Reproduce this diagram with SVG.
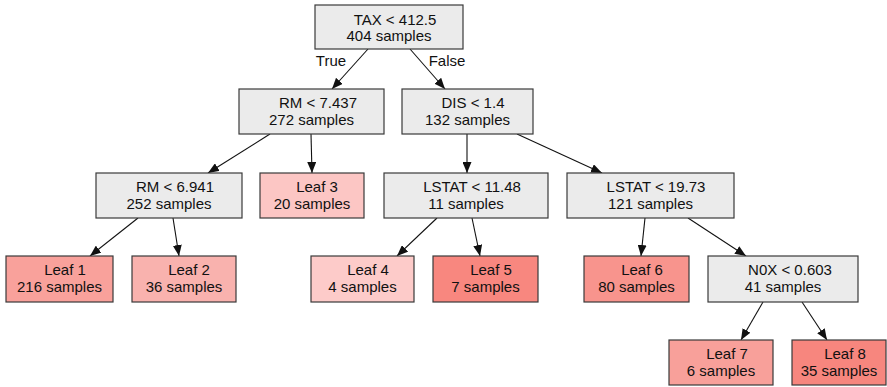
<svg xmlns="http://www.w3.org/2000/svg" width="887" height="387" viewBox="0 0 887 387">
<style>
.box{stroke:#3a3a3a;stroke-width:1.2}
.split{fill:#ebebeb}
text{font-family:"Liberation Sans",Arial,sans-serif;font-size:15px;fill:#111;text-anchor:middle}
.e{stroke:#111;stroke-width:1.1;fill:none;marker-end:url(#ah)}
</style>
<defs>
<marker id="ah" viewBox="0 0 11 9" refX="11" refY="4.5" markerWidth="11" markerHeight="9" markerUnits="userSpaceOnUse" orient="auto">
<path d="M0,0 L11,4.5 L0,9 Z" fill="#111"/>
</marker>
</defs>
<rect width="887" height="387" fill="#fff"/>
<g id="edges">
<line class="e" x1="368" y1="49" x2="332" y2="89"/>
<line class="e" x1="410" y1="49" x2="445" y2="89"/>
<line class="e" x1="270" y1="134" x2="208" y2="173"/>
<line class="e" x1="311" y1="134" x2="312" y2="173"/>
<line class="e" x1="467" y1="134" x2="467" y2="173"/>
<line class="e" x1="517" y1="134" x2="602" y2="173"/>
<line class="e" x1="138" y1="218" x2="90" y2="256"/>
<line class="e" x1="173" y1="218" x2="179" y2="256"/>
<line class="e" x1="437" y1="218" x2="397" y2="256"/>
<line class="e" x1="472" y1="218" x2="480" y2="256"/>
<line class="e" x1="645" y1="218" x2="641" y2="256"/>
<line class="e" x1="688" y1="218" x2="746" y2="256"/>
<line class="e" x1="763" y1="302" x2="741" y2="340"/>
<line class="e" x1="802" y1="302" x2="827" y2="340"/>
<text x="331" y="66">True</text>
<text x="447" y="66">False</text>
</g>
<g id="n0"><rect class="box split" x="315" y="5" width="148" height="44"/><text x="395" y="25">TAX &lt; 412.5</text><text x="389" y="41">404 samples</text></g>
<g id="n1"><rect class="box split" x="239" y="89" width="145" height="45"/><text x="318" y="108">RM &lt; 7.437</text><text x="311.5" y="125">272 samples</text></g>
<g id="n2"><rect class="box split" x="402" y="89" width="131" height="45"/><text x="473" y="108">DIS &lt; 1.4</text><text x="467.5" y="125">132 samples</text></g>
<g id="n3"><rect class="box split" x="96" y="173" width="146" height="45"/><text x="175" y="192">RM &lt; 6.941</text><text x="169" y="209">252 samples</text></g>
<g id="n4"><rect class="box" fill="#fcc6c4" x="260" y="173" width="104" height="45"/><text x="317" y="192">Leaf 3</text><text x="312" y="209">20 samples</text></g>
<g id="n5"><rect class="box split" x="384" y="173" width="164" height="45"/><text x="472" y="192">LSTAT &lt; 11.48</text><text x="466" y="209">11 samples</text></g>
<g id="n6"><rect class="box split" x="567" y="173" width="167" height="45"/><text x="656" y="192">LSTAT &lt; 19.73</text><text x="650.5" y="209">121 samples</text></g>
<g id="n7"><rect class="box" fill="#f9a19b" x="6" y="256" width="107" height="46"/><text x="65" y="275">Leaf 1</text><text x="59.5" y="292">216 samples</text></g>
<g id="n8"><rect class="box" fill="#f9b2ae" x="132" y="256" width="104" height="46"/><text x="189" y="275">Leaf 2</text><text x="184" y="292">36 samples</text></g>
<g id="n9"><rect class="box" fill="#fdcbc9" x="311" y="256" width="103" height="46"/><text x="368" y="275">Leaf 4</text><text x="362.5" y="292">4 samples</text></g>
<g id="n10"><rect class="box" fill="#f8877f" x="433" y="256" width="105" height="46"/><text x="491" y="275">Leaf 5</text><text x="485.5" y="292">7 samples</text></g>
<g id="n11"><rect class="box" fill="#f8948d" x="584" y="256" width="105" height="46"/><text x="642" y="275">Leaf 6</text><text x="636.5" y="292">80 samples</text></g>
<g id="n12"><rect class="box split" x="708" y="256" width="150" height="46"/><text x="790" y="275">N0X &lt; 0.603</text><text x="783" y="292">41 samples</text></g>
<g id="n13"><rect class="box" fill="#f8a09a" x="669" y="340" width="104" height="45"/><text x="727" y="359">Leaf 7</text><text x="721" y="376">6 samples</text></g>
<g id="n14"><rect class="box" fill="#f7867e" x="792" y="340" width="94" height="45"/><text x="845" y="359">Leaf 8</text><text x="839" y="376">35 samples</text></g>
</svg>
